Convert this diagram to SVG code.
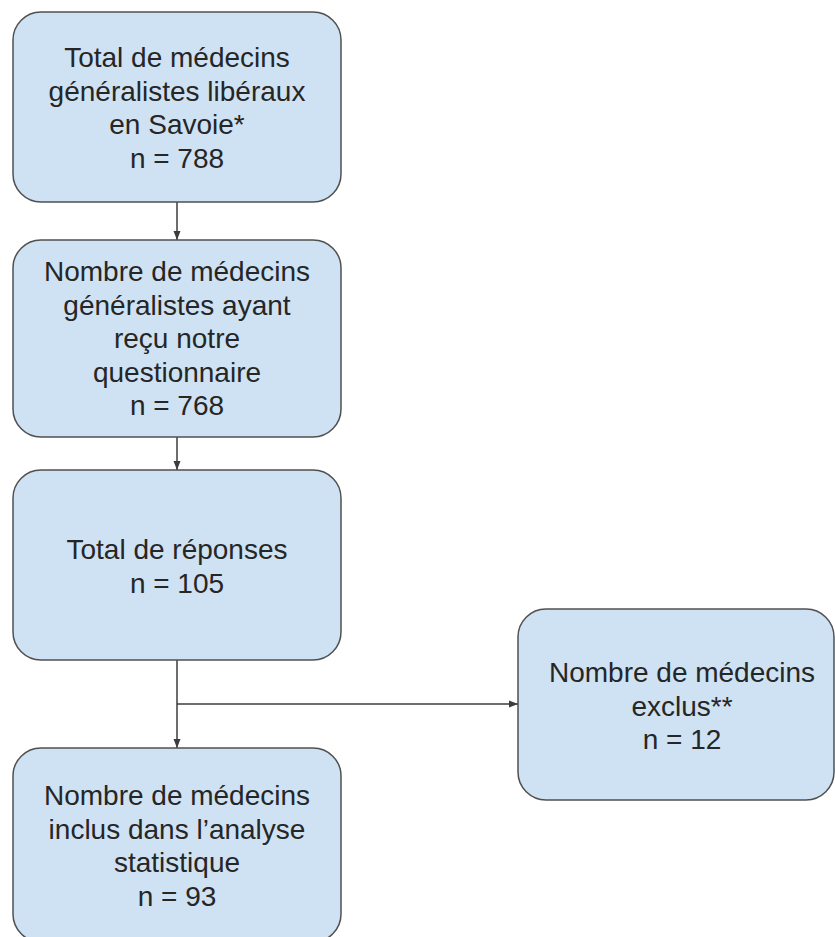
<svg xmlns="http://www.w3.org/2000/svg" width="835" height="937" viewBox="0 0 835 937">
  <style>
    .box { fill: #cfe2f3; stroke: #505050; stroke-width: 1.5; }
    .lbl { font-family: "Liberation Sans", Arial, sans-serif; font-size: 28px; fill: #262626; text-anchor: middle; }
    .conn { fill: none; stroke: #3c3c3c; stroke-width: 1.5; }
  </style>
  <defs>
    <marker id="arrow" markerUnits="userSpaceOnUse" markerWidth="10" markerHeight="8" refX="9" refY="4" orient="auto">
      <path d="M0,0.5 L9,4 L0,7.5 z" fill="#3c3c3c"/>
    </marker>
  </defs>
  <rect width="835" height="937" fill="#ffffff"/>

  <g id="connectors">
    <line class="conn" x1="177" y1="202" x2="177" y2="240" marker-end="url(#arrow)"/>
    <line class="conn" x1="177" y1="437" x2="177" y2="470" marker-end="url(#arrow)"/>
    <line class="conn" x1="177" y1="660" x2="177" y2="748" marker-end="url(#arrow)"/>
    <line class="conn" x1="177" y1="704" x2="518" y2="704" marker-end="url(#arrow)"/>
  </g>

  <g id="node-total">
    <rect class="box" x="13" y="12" width="328" height="190" rx="28" ry="28"/>
    <text class="lbl" x="177" y="67">Total de médecins</text>
    <text class="lbl" x="177" y="100.5">généralistes libéraux</text>
    <text class="lbl" x="177" y="134">en Savoie*</text>
    <text class="lbl" x="177" y="167.5">n = 788</text>
  </g>

  <g id="node-recu">
    <rect class="box" x="13" y="240" width="328" height="197" rx="28" ry="28"/>
    <text class="lbl" x="177" y="281">Nombre de médecins</text>
    <text class="lbl" x="177" y="314.5">généralistes ayant</text>
    <text class="lbl" x="177" y="348">reçu notre</text>
    <text class="lbl" x="177" y="381.5">questionnaire</text>
    <text class="lbl" x="177" y="415">n = 768</text>
  </g>

  <g id="node-reponses">
    <rect class="box" x="13" y="470" width="328" height="190" rx="28" ry="28"/>
    <text class="lbl" x="177" y="559">Total de réponses</text>
    <text class="lbl" x="177" y="592.5">n = 105</text>
  </g>

  <g id="node-exclus">
    <rect class="box" x="518" y="609" width="316" height="191" rx="28" ry="28"/>
    <text class="lbl" x="682" y="682">Nombre de médecins</text>
    <text class="lbl" x="682" y="715.5">exclus**</text>
    <text class="lbl" x="682" y="749">n = 12</text>
  </g>

  <g id="node-inclus">
    <rect class="box" x="13" y="748" width="328" height="194" rx="28" ry="28"/>
    <text class="lbl" x="177" y="805">Nombre de médecins</text>
    <text class="lbl" x="177" y="838.5">inclus dans l’analyse</text>
    <text class="lbl" x="177" y="872">statistique</text>
    <text class="lbl" x="177" y="905.5">n = 93</text>
  </g>
</svg>
